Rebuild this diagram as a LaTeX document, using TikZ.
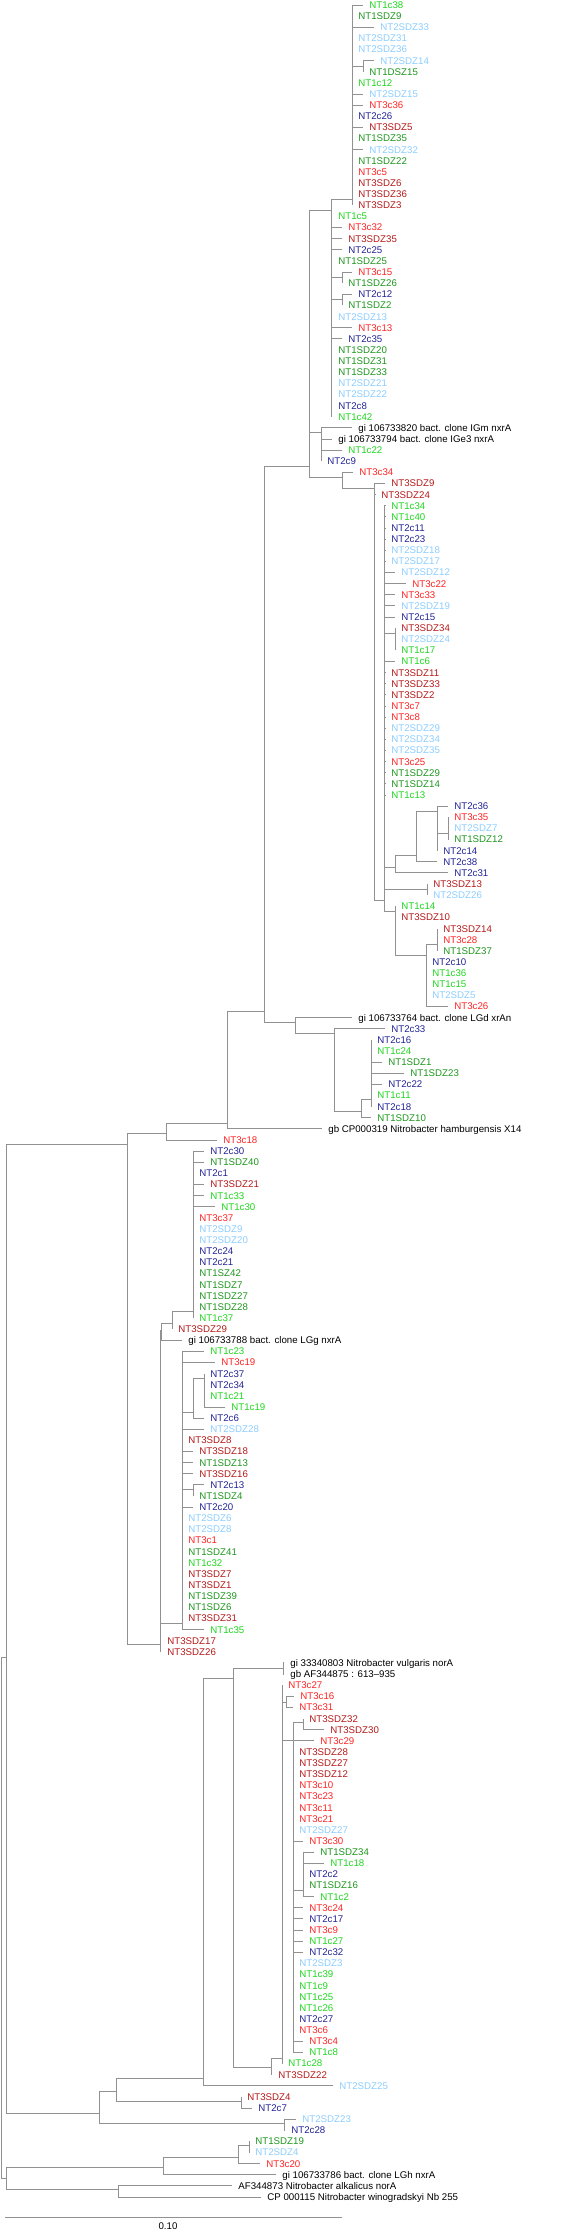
\documentclass[tikz,border=0pt]{standalone}
\usepackage{fontspec}
\setmainfont{Liberation Sans}
\definecolor{cA}{RGB}{30,215,30}
\definecolor{cB}{RGB}{30,150,30}
\definecolor{cC}{RGB}{140,205,255}
\definecolor{cD}{RGB}{35,35,150}
\definecolor{cE}{RGB}{255,35,35}
\definecolor{cF}{RGB}{180,25,25}
\definecolor{cK}{RGB}{0,0,0}
\definecolor{ln}{RGB}{145,145,145}
\tikzset{
  lab/.style={anchor=west,inner xsep=6.2pt,inner ysep=0pt,text height=6.9pt,text depth=0pt,font=\fontsize{9.7pt}{11pt}\selectfont},
  br/.style={draw=ln,line width=0.9pt}
}
\newcommand\LeafX[6]{\node[lab,text=#5] (#2) at ({#4-7},{5+11.127*#3}) {#6}; \draw[br] (#1) |- (#2.west);}
\newcommand\InnerX[4]{\coordinate (#2) at (#3,#4); \draw[br] (#1) |- (#2);}
\begin{document}
\begin{tikzpicture}[x=1pt,y=-1pt]
\useasboundingbox (0,0) rectangle (585,2232);
% ---- internal nodes ----
\coordinate (R0) at (1,1657);
\InnerX{R0}{R1}{6.5}{1657}
\InnerX{R0}{R2}{6.5}{2178}
\InnerX{R1}{S}{127}{1144}
\InnerX{S}{R}{166}{1133}
\InnerX{R}{Q}{227}{1123}
\InnerX{Q}{P}{264}{1011}
\InnerX{P}{C}{309}{466}
\InnerX{C}{B}{331}{210}
\InnerX{B}{A}{352}{199}
\InnerX{A}{A1}{363}{66}
\InnerX{B}{B1a}{342}{277}
\InnerX{B}{B1b}{342}{299}
\InnerX{C}{D}{321}{432}
\InnerX{C}{E}{342}{477}
\InnerX{E}{F}{374.5}{488}
\InnerX{F}{H}{384.5}{900}
\InnerX{H}{H1}{395}{633}
\InnerX{H}{I}{395}{867}
\InnerX{I}{J}{416}{855}
\InnerX{J}{K}{437}{811}
\InnerX{K}{L}{448}{833}
\InnerX{H}{H2}{427}{889}
\InnerX{H}{M}{395}{911}
\InnerX{M}{N}{426}{955}
\InnerX{N}{O}{437}{944}
\InnerX{P}{P2}{295}{1022}
\InnerX{P2}{P3}{334}{1033}
\InnerX{P3}{P4}{361}{1111}
\InnerX{P4}{P5}{371}{1099}
\InnerX{S}{T}{160}{1644}
\InnerX{T}{U}{161}{1330}
\InnerX{U}{W}{172}{1323}
\InnerX{W}{Y}{193}{1311}
\InnerX{T}{V}{182}{1623}
\InnerX{V}{Z}{193}{1412}
\InnerX{Z}{Z2}{204}{1378}
\InnerX{V}{V1}{193}{1489}
\InnerX{R1}{B1}{99}{2113}
\InnerX{B1}{B2}{116}{2091}
\InnerX{B2}{B3}{203}{2078}
\InnerX{B3}{D1}{233}{1678}
\InnerX{D1}{D2}{283}{1668}
\InnerX{D1}{D9}{271}{2067}
\InnerX{D9}{D3}{282}{2058}
\InnerX{D3}{D3a}{286}{1702}
\InnerX{D3}{D4}{293}{1740}
\InnerX{D4}{D4a}{303}{1722}
\InnerX{D4}{D4b}{303}{1890}
\InnerX{B2}{B4}{241}{2101}
\InnerX{B1}{B5}{284}{2123}
\InnerX{R2}{C1}{163}{2167}
\InnerX{C1}{C3}{238}{2157}
\InnerX{C3}{C4}{249}{2145}
\InnerX{R2}{C2}{118}{2189}
% ---- leaves ----
\LeafX{A}{l0}{0}{370}{cA}{NT1c38}
\LeafX{A}{l1}{1}{359}{cB}{NT1SDZ9}
\LeafX{A}{l2}{2}{381}{cC}{NT2SDZ33}
\LeafX{A}{l3}{3}{359}{cC}{NT2SDZ31}
\LeafX{A}{l4}{4}{359}{cC}{NT2SDZ36}
\LeafX{A1}{l5}{5}{381}{cC}{NT2SDZ14}
\LeafX{A1}{l6}{6}{370}{cB}{NT1DSZ15}
\LeafX{A}{l7}{7}{359}{cA}{NT1c12}
\LeafX{A}{l8}{8}{370}{cC}{NT2SDZ15}
\LeafX{A}{l9}{9}{370}{cE}{NT3c36}
\LeafX{A}{l10}{10}{359}{cD}{NT2c26}
\LeafX{A}{l11}{11}{370}{cF}{NT3SDZ5}
\LeafX{A}{l12}{12}{359}{cB}{NT1SDZ35}
\LeafX{A}{l13}{13}{370}{cC}{NT2SDZ32}
\LeafX{A}{l14}{14}{359}{cB}{NT1SDZ22}
\LeafX{A}{l15}{15}{359}{cE}{NT3c5}
\LeafX{A}{l16}{16}{359}{cF}{NT3SDZ6}
\LeafX{A}{l17}{17}{359}{cF}{NT3SDZ36}
\LeafX{A}{l18}{18}{359}{cF}{NT3SDZ3}
\LeafX{B}{l19}{19}{339}{cA}{NT1c5}
\LeafX{B}{l20}{20}{349}{cE}{NT3c32}
\LeafX{B}{l21}{21}{349}{cF}{NT3SDZ35}
\LeafX{B}{l22}{22}{349}{cD}{NT2c25}
\LeafX{B}{l23}{23}{339}{cB}{NT1SDZ25}
\LeafX{B1a}{l24}{24}{359}{cE}{NT3c15}
\LeafX{B1a}{l25}{25}{349}{cB}{NT1SDZ26}
\LeafX{B1b}{l26}{26}{359}{cD}{NT2c12}
\LeafX{B1b}{l27}{27}{349}{cB}{NT1SDZ2}
\LeafX{B}{l28}{28}{339}{cC}{NT2SDZ13}
\LeafX{B}{l29}{29}{359}{cE}{NT3c13}
\LeafX{B}{l30}{30}{349}{cD}{NT2c35}
\LeafX{B}{l31}{31}{339}{cB}{NT1SDZ20}
\LeafX{B}{l32}{32}{339}{cB}{NT1SDZ31}
\LeafX{B}{l33}{33}{339}{cB}{NT1SDZ33}
\LeafX{B}{l34}{34}{339}{cC}{NT2SDZ21}
\LeafX{B}{l35}{35}{339}{cC}{NT2SDZ22}
\LeafX{B}{l36}{36}{339}{cD}{NT2c8}
\LeafX{B}{l37}{37}{339}{cA}{NT1c42}
\LeafX{D}{l38}{38}{359}{cK}{gi 106733820 bact. clone IGm nxrA}
\LeafX{D}{l39}{39}{339}{cK}{gi 106733794 bact. clone IGe3 nxrA}
\LeafX{D}{l40}{40}{349}{cA}{NT1c22}
\LeafX{D}{l41}{41}{328}{cD}{NT2c9}
\LeafX{E}{l42}{42}{360}{cE}{NT3c34}
\LeafX{F}{l43}{43}{392}{cF}{NT3SDZ9}
\LeafX{F}{l44}{44}{382}{cF}{NT3SDZ24}
\LeafX{H}{l45}{45}{392}{cA}{NT1c34}
\LeafX{H}{l46}{46}{392}{cA}{NT1c40}
\LeafX{H}{l47}{47}{392}{cD}{NT2c11}
\LeafX{H}{l48}{48}{392}{cD}{NT2c23}
\LeafX{H}{l49}{49}{392}{cC}{NT2SDZ18}
\LeafX{H}{l50}{50}{392}{cC}{NT2SDZ17}
\LeafX{H}{l51}{51}{402}{cC}{NT2SDZ12}
\LeafX{H}{l52}{52}{413}{cE}{NT3c22}
\LeafX{H}{l53}{53}{402}{cE}{NT3c33}
\LeafX{H}{l54}{54}{402}{cC}{NT2SDZ19}
\LeafX{H}{l55}{55}{402}{cD}{NT2c15}
\LeafX{H1}{l56}{56}{402}{cF}{NT3SDZ34}
\LeafX{H1}{l57}{57}{402}{cC}{NT2SDZ24}
\LeafX{H1}{l58}{58}{402}{cA}{NT1c17}
\LeafX{H}{l59}{59}{402}{cA}{NT1c6}
\LeafX{H}{l60}{60}{392}{cF}{NT3SDZ11}
\LeafX{H}{l61}{61}{392}{cF}{NT3SDZ33}
\LeafX{H}{l62}{62}{392}{cF}{NT3SDZ2}
\LeafX{H}{l63}{63}{392}{cE}{NT3c7}
\LeafX{H}{l64}{64}{392}{cE}{NT3c8}
\LeafX{H}{l65}{65}{392}{cC}{NT2SDZ29}
\LeafX{H}{l66}{66}{392}{cC}{NT2SDZ34}
\LeafX{H}{l67}{67}{392}{cC}{NT2SDZ35}
\LeafX{H}{l68}{68}{392}{cE}{NT3c25}
\LeafX{H}{l69}{69}{392}{cB}{NT1SDZ29}
\LeafX{H}{l70}{70}{392}{cB}{NT1SDZ14}
\LeafX{H}{l71}{71}{392}{cA}{NT1c13}
\LeafX{K}{l72}{72}{455}{cD}{NT2c36}
\LeafX{L}{l73}{73}{455}{cE}{NT3c35}
\LeafX{L}{l74}{74}{455}{cC}{NT2SDZ7}
\LeafX{L}{l75}{75}{455}{cB}{NT1SDZ12}
\LeafX{K}{l76}{76}{444}{cD}{NT2c14}
\LeafX{J}{l77}{77}{444}{cD}{NT2c38}
\LeafX{I}{l78}{78}{455}{cD}{NT2c31}
\LeafX{H2}{l79}{79}{434}{cF}{NT3SDZ13}
\LeafX{H2}{l80}{80}{434}{cC}{NT2SDZ26}
\LeafX{M}{l81}{81}{402}{cA}{NT1c14}
\LeafX{M}{l82}{82}{402}{cF}{NT3SDZ10}
\LeafX{O}{l83}{83}{444}{cF}{NT3SDZ14}
\LeafX{O}{l84}{84}{444}{cE}{NT3c28}
\LeafX{O}{l85}{85}{444}{cB}{NT1SDZ37}
\LeafX{N}{l86}{86}{433}{cD}{NT2c10}
\LeafX{N}{l87}{87}{433}{cA}{NT1c36}
\LeafX{N}{l88}{88}{433}{cA}{NT1c15}
\LeafX{N}{l89}{89}{433}{cC}{NT2SDZ5}
\LeafX{N}{l90}{90}{455}{cE}{NT3c26}
\LeafX{P2}{l91}{91}{359}{cK}{gi 106733764 bact. clone LGd xrAn}
\LeafX{P3}{l92}{92}{392}{cD}{NT2c33}
\LeafX{P5}{l93}{93}{378}{cD}{NT2c16}
\LeafX{P5}{l94}{94}{378}{cA}{NT1c24}
\LeafX{P5}{l95}{95}{389}{cB}{NT1SDZ1}
\LeafX{P5}{l96}{96}{411}{cB}{NT1SDZ23}
\LeafX{P5}{l97}{97}{389}{cD}{NT2c22}
\LeafX{P5}{l98}{98}{378}{cA}{NT1c11}
\LeafX{P5}{l99}{99}{378}{cD}{NT2c18}
\LeafX{P4}{l100}{100}{378}{cB}{NT1SDZ10}
\LeafX{Q}{l101}{101}{329}{cK}{gb CP000319 Nitrobacter hamburgensis X14}
\LeafX{R}{l102}{102}{224}{cE}{NT3c18}
\LeafX{Y}{l103}{103}{211}{cD}{NT2c30}
\LeafX{Y}{l104}{104}{211}{cB}{NT1SDZ40}
\LeafX{Y}{l105}{105}{200}{cD}{NT2c1}
\LeafX{Y}{l106}{106}{211}{cF}{NT3SDZ21}
\LeafX{Y}{l107}{107}{211}{cA}{NT1c33}
\LeafX{Y}{l108}{108}{222}{cA}{NT1c30}
\LeafX{Y}{l109}{109}{200}{cE}{NT3c37}
\LeafX{Y}{l110}{110}{200}{cC}{NT2SDZ9}
\LeafX{Y}{l111}{111}{200}{cC}{NT2SDZ20}
\LeafX{Y}{l112}{112}{200}{cD}{NT2c24}
\LeafX{Y}{l113}{113}{200}{cD}{NT2c21}
\LeafX{Y}{l114}{114}{200}{cB}{NT1SZ42}
\LeafX{Y}{l115}{115}{200}{cB}{NT1SDZ7}
\LeafX{Y}{l116}{116}{200}{cB}{NT1SDZ27}
\LeafX{Y}{l117}{117}{200}{cB}{NT1SDZ28}
\LeafX{Y}{l118}{118}{200}{cA}{NT1c37}
\LeafX{W}{l119}{119}{179}{cF}{NT3SDZ29}
\LeafX{U}{l120}{120}{189}{cK}{gi 106733788 bact. clone LGg nxrA}
\LeafX{V}{l121}{121}{211}{cA}{NT1c23}
\LeafX{V}{l122}{122}{222}{cE}{NT3c19}
\LeafX{Z2}{l123}{123}{211}{cD}{NT2c37}
\LeafX{Z2}{l124}{124}{211}{cD}{NT2c34}
\LeafX{Z2}{l125}{125}{211}{cA}{NT1c21}
\LeafX{Z2}{l126}{126}{232}{cA}{NT1c19}
\LeafX{Z}{l127}{127}{211}{cD}{NT2c6}
\LeafX{V}{l128}{128}{211}{cC}{NT2SDZ28}
\LeafX{V}{l129}{129}{189}{cF}{NT3SDZ8}
\LeafX{V}{l130}{130}{200}{cF}{NT3SDZ18}
\LeafX{V}{l131}{131}{200}{cB}{NT1SDZ13}
\LeafX{V}{l132}{132}{200}{cF}{NT3SDZ16}
\LeafX{V1}{l133}{133}{211}{cD}{NT2c13}
\LeafX{V1}{l134}{134}{200}{cB}{NT1SDZ4}
\LeafX{V}{l135}{135}{200}{cD}{NT2c20}
\LeafX{V}{l136}{136}{189}{cC}{NT2SDZ6}
\LeafX{V}{l137}{137}{189}{cC}{NT2SDZ8}
\LeafX{V}{l138}{138}{189}{cE}{NT3c1}
\LeafX{V}{l139}{139}{189}{cB}{NT1SDZ41}
\LeafX{V}{l140}{140}{189}{cA}{NT1c32}
\LeafX{V}{l141}{141}{189}{cF}{NT3SDZ7}
\LeafX{V}{l142}{142}{189}{cF}{NT3SDZ1}
\LeafX{V}{l143}{143}{189}{cB}{NT1SDZ39}
\LeafX{V}{l144}{144}{189}{cB}{NT1SDZ6}
\LeafX{V}{l145}{145}{189}{cF}{NT3SDZ31}
\LeafX{V}{l146}{146}{211}{cA}{NT1c35}
\LeafX{T}{l147}{147}{168}{cF}{NT3SDZ17}
\LeafX{T}{l148}{148}{168}{cF}{NT3SDZ26}
\LeafX{D2}{l149}{149}{291}{cK}{gi 33340803 Nitrobacter vulgaris norA}
\LeafX{D2}{l150}{150}{291}{cK}{gb AF344875 : 613–935}
\LeafX{D3}{l151}{151}{289}{cE}{NT3c27}
\LeafX{D3a}{l152}{152}{301}{cE}{NT3c16}
\LeafX{D3a}{l153}{153}{300}{cE}{NT3c31}
\LeafX{D4a}{l154}{154}{310}{cF}{NT3SDZ32}
\LeafX{D4a}{l155}{155}{331}{cF}{NT3SDZ30}
\LeafX{D4}{l156}{156}{321}{cE}{NT3c29}
\LeafX{D4}{l157}{157}{300}{cF}{NT3SDZ28}
\LeafX{D4}{l158}{158}{300}{cF}{NT3SDZ27}
\LeafX{D4}{l159}{159}{300}{cF}{NT3SDZ12}
\LeafX{D4}{l160}{160}{300}{cE}{NT3c10}
\LeafX{D4}{l161}{161}{300}{cE}{NT3c23}
\LeafX{D4}{l162}{162}{300}{cE}{NT3c11}
\LeafX{D4}{l163}{163}{300}{cE}{NT3c21}
\LeafX{D4}{l164}{164}{300}{cC}{NT2SDZ27}
\LeafX{D4}{l165}{165}{310}{cE}{NT3c30}
\LeafX{D4b}{l166}{166}{321}{cB}{NT1SDZ34}
\LeafX{D4b}{l167}{167}{331}{cA}{NT1c18}
\LeafX{D4b}{l168}{168}{310}{cD}{NT2c2}
\LeafX{D4b}{l169}{169}{310}{cB}{NT1SDZ16}
\LeafX{D4b}{l170}{170}{321}{cA}{NT1c2}
\LeafX{D4}{l171}{171}{310}{cE}{NT3c24}
\LeafX{D4}{l172}{172}{310}{cD}{NT2c17}
\LeafX{D4}{l173}{173}{310}{cE}{NT3c9}
\LeafX{D4}{l174}{174}{310}{cA}{NT1c27}
\LeafX{D4}{l175}{175}{310}{cD}{NT2c32}
\LeafX{D4}{l176}{176}{300}{cC}{NT2SDZ3}
\LeafX{D4}{l177}{177}{300}{cA}{NT1c39}
\LeafX{D4}{l178}{178}{300}{cA}{NT1c9}
\LeafX{D4}{l179}{179}{300}{cA}{NT1c25}
\LeafX{D4}{l180}{180}{300}{cA}{NT1c26}
\LeafX{D4}{l181}{181}{300}{cD}{NT2c27}
\LeafX{D4}{l182}{182}{300}{cE}{NT3c6}
\LeafX{D4}{l183}{183}{310}{cE}{NT3c4}
\LeafX{D4}{l184}{184}{310}{cA}{NT1c8}
\LeafX{D3}{l185}{185}{289}{cA}{NT1c28}
\LeafX{D9}{l186}{186}{279}{cF}{NT3SDZ22}
\LeafX{B3}{l187}{187}{340}{cC}{NT2SDZ25}
\LeafX{B4}{l188}{188}{248}{cF}{NT3SDZ4}
\LeafX{B4}{l189}{189}{259}{cD}{NT2c7}
\LeafX{B5}{l190}{190}{303}{cC}{NT2SDZ23}
\LeafX{B5}{l191}{191}{292}{cD}{NT2c28}
\LeafX{C4}{l192}{192}{256}{cB}{NT1SDZ19}
\LeafX{C4}{l193}{193}{256}{cC}{NT2SDZ4}
\LeafX{C3}{l194}{194}{267}{cE}{NT3c20}
\LeafX{C1}{l195}{195}{283}{cK}{gi 106733786 bact. clone LGh nxrA}
\LeafX{C2}{l196}{196}{239}{cK}{AF344873 Nitrobacter alkalicus norA}
\LeafX{C2}{l197}{197}{268}{cK}{CP 000115 Nitrobacter winogradskyi Nb 255}
% ---- scale bar ----
\coordinate (sb1) at (5,2217);
\coordinate (sb2) at (342,2217);
\draw[br] (sb1) -- (sb2);
\node[lab,anchor=center,inner xsep=0pt] (sbl) at (168,2226.5) {0.10};
\end{tikzpicture}
\end{document}
